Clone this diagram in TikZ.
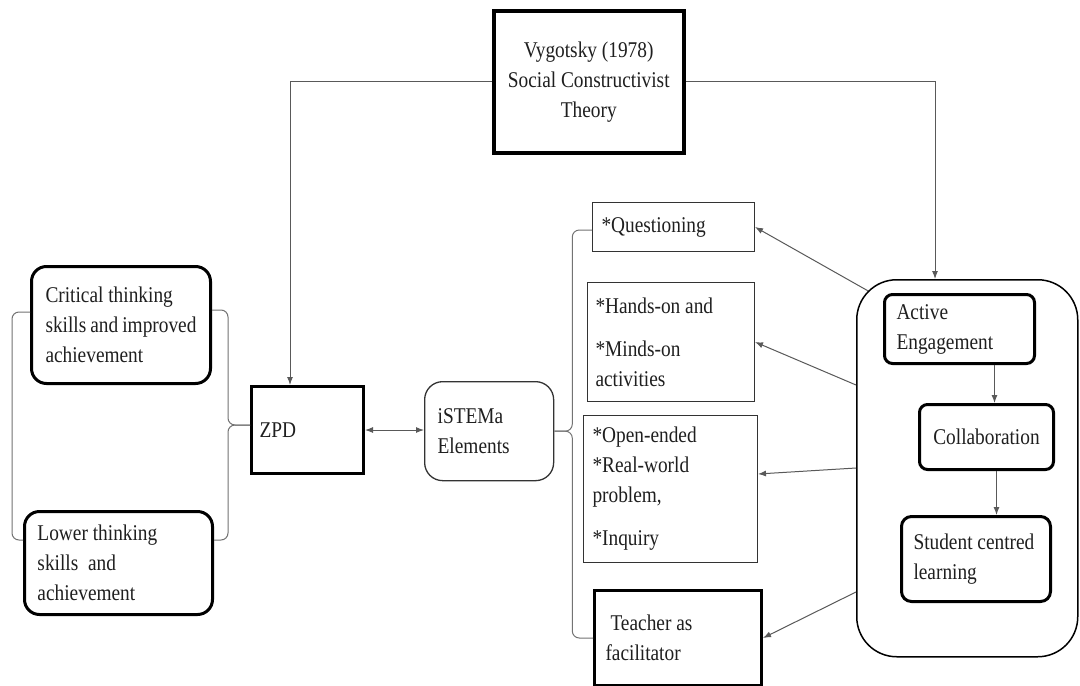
\documentclass[tikz,border=0pt]{standalone}
\usepackage{fontspec}
\setmainfont{Liberation Serif}[FakeStretch=0.86]
\usetikzlibrary{arrows.meta,calc}
\hyphenpenalty=10000
\exhyphenpenalty=10000
\begin{document}
\begin{tikzpicture}[x=1pt,y=-1pt,
 every node/.style={font=\fontsize{22.5}{30}\selectfont, text=black!88},
 thickbox/.style={draw=black, line width=3pt, anchor=north west, inner ysep=0pt},
 thinbox/.style={draw=black!80, line width=1pt, anchor=north west, inner ysep=0pt},
 conn/.style={draw=black!65, line width=1pt},
 arr/.style={conn, -{Latex[length=8pt,width=6pt]}},
 darr/.style={conn, {Latex[length=8pt,width=6pt]}-{Latex[length=8pt,width=6pt]}},
 brk/.style={draw=black!55, line width=1pt, rounded corners=7pt},
]
\fill[white] (0,0) rectangle (1080,686);
\useasboundingbox (0,0) rectangle (1080,686);

% top theory box
\node[thickbox, line width=3.5pt, minimum width=190pt, minimum height=142pt, align=flush center] (vyg) at (492,9) {Vygotsky (1978)\\Social Constructivist\\Theory};

% left outcome boxes
\node[thickbox, rounded corners=15pt, minimum width=179pt, minimum height=117pt, text width=151pt, inner xsep=14pt, align=flush left] (crit) at (30,265) {Critical~thinking\\skills~and~improved\\achievement};
\node[thickbox, rounded corners=15pt, minimum width=188pt, minimum height=103pt, text width=162pt, inner xsep=13pt, align=flush left] (low) at (23,510) {Lower~thinking\\skills\ \ and\\achievement};

% ZPD and iSTEMa
\node[thickbox, minimum width=112pt, minimum height=87pt, text width=96pt, inner xsep=8pt, align=flush left] (zpd) at (250,385) {ZPD};
\node[thinbox, line width=1.3pt, rounded corners=18pt, minimum width=129pt, minimum height=99pt, text width=103pt, inner xsep=13pt, align=flush left] (ist) at (424,381) {iSTEMa\\Elements};

% element boxes
\node[thinbox, minimum width=162pt, minimum height=49pt, text width=144pt, inner xsep=9pt, align=flush left] (que) at (592,202) {*Questioning};
\node[thinbox, minimum width=167pt, minimum height=119pt, text width=151pt, inner xsep=8pt, align=flush left] (hand) at (587,282) {*Hands-on~and\\[13pt]*Minds-on\\{}activities};
\node[thinbox, minimum width=174pt, minimum height=147pt, text width=156pt, inner xsep=9pt, align=flush left] (open) at (583,415) {*Open-ended\\{}*Real-world\\{}problem,\\[13pt]*Inquiry};
\node[thickbox, minimum width=167pt, minimum height=95pt, text width=145pt, inner xsep=11pt, align=flush left] (teach) at (593,589) {\hspace*{5pt}Teacher~as\\facilitator};

% right group
\node[draw=black, line width=1.5pt, rounded corners=40pt, anchor=north west, minimum width=221pt, minimum height=377pt] (big) at (856,279) {};
\node[thickbox, rounded corners=8pt, minimum width=150pt, minimum height=69pt, text width=126pt, inner xsep=12pt, align=flush left] (act) at (883,293) {Active\\Engagement};
\node[thickbox, rounded corners=8pt, minimum width=134pt, minimum height=65pt, align=flush center] (col) at (918,403) {Collaboration};
\node[thickbox, rounded corners=10pt, minimum width=149pt, minimum height=85pt, text width=125pt, inner xsep=12pt, align=flush left] (stu) at (900,515) {Student~centred\\learning};

% connectors from theory
\draw[arr] (vyg.west) -| ($(zpd.north west)+(40,0)$);
\draw[arr] (vyg.east) -| ($(big.north west)+(79,0)$);

% ZPD <-> iSTEMa
\draw[darr] (zpd.east) -- (zpd.east -| ist.west);

% arrows from right group to elements
\draw[arr] ($(big.north west)+(11.7,11.7)$) -- (que.east);
\draw[arr] ($(big.north west)+(0,106)$) -- (hand.east);
\draw[arr] ($(big.north west)+(0,189)$) -- ($(open.east)+(0,-15)$);
\draw[arr] ($(big.north west)+(0,313)$) -- (teach.east);

% inner flow
\coordinate (p1) at ($(act.south)+(35,0)$);
\draw[arr] (p1) -- (p1 |- col.north);
\coordinate (p2) at ($(col.south)+(10,0)$);
\draw[arr] (p2) -- (p2 |- stu.north);

% brackets
\draw[brk] ($(crit.north west)+(0,47)$) -| ($(low.north west)+(-11,30)$) -- ($(low.north west)+(0,30)$);
\coordinate (zb) at ($(zpd.west)+(-22,-5)$);
\draw[brk] ($(crit.east)+(0,-15)$) -| (zb) -- (zb -| zpd.west);
\draw[brk] ($(low.north east)+(0,30)$) -| (zb) -- (zb -| zpd.west);
\coordinate (eb) at ($(ist.east)+(18,0)$);
\draw[brk] ($(que.west)+(0,3)$) -| (eb) -- (ist.east);
\draw[brk] (teach.west) -| (eb) -- (ist.east);
\end{tikzpicture}
\end{document}
